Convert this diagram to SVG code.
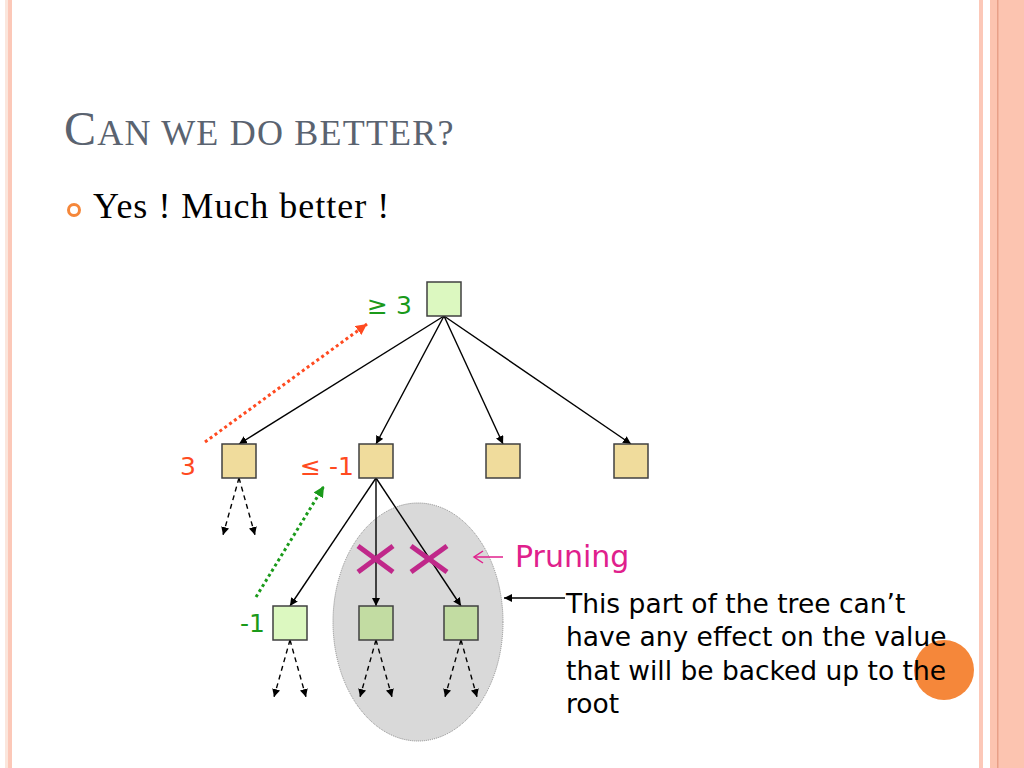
<svg xmlns="http://www.w3.org/2000/svg" width="1024" height="768" viewBox="0 0 1024 768">
<style>
.box{stroke:#404040;stroke-width:1.5}
.tan{fill:#f0dc9c}
.lg{fill:#dcf8c0}
.dg{fill:#c2dca2}
.edge{stroke:#000;stroke-width:1.4;fill:none;marker-end:url(#ah)}
.dash{stroke:#000;stroke-width:1.4;fill:none;stroke-dasharray:5,4;marker-end:url(#ah)}
.lbl{font-family:"DejaVu Sans","Liberation Sans",sans-serif;font-size:25px}
.note{font-family:"DejaVu Sans","Liberation Sans",sans-serif;font-size:26.5px;fill:#000}
</style>
<defs>
<marker id="ah" viewBox="0 0 10 10" refX="10" refY="5" markerWidth="8" markerHeight="8" markerUnits="userSpaceOnUse" orient="auto">
<path d="M0,0 L10,5 L0,10 z" fill="#000"/>
</marker>
<marker id="ahr" viewBox="0 0 10 10" refX="10" refY="5" markerWidth="11" markerHeight="11" markerUnits="userSpaceOnUse" orient="auto">
<path d="M0,0 L10,5 L0,10 z" fill="#ff4a20"/>
</marker>
<marker id="ahg" viewBox="0 0 10 10" refX="10" refY="5" markerWidth="11" markerHeight="11" markerUnits="userSpaceOnUse" orient="auto">
<path d="M0,0 L10,5 L0,10 z" fill="#1a9a1a"/>
</marker>
</defs>
<rect width="1024" height="768" fill="#fff"/>
<!-- borders -->
<rect x="5" y="0" width="3" height="768" fill="#fbe6dc"/>
<rect x="8" y="0" width="4" height="768" fill="#fcc8b8"/>
<rect x="979" y="0" width="4" height="768" fill="#fcc8b8"/>
<rect x="990" y="0" width="34" height="768" fill="#fcc4b0"/>
<rect x="997" y="0" width="1.5" height="768" fill="#e8a088"/>
<!-- title -->
<text x="64" y="145" font-family="Liberation Serif,serif" fill="#5a6370" letter-spacing="1.2"><tspan font-size="48">C</tspan><tspan font-size="36">AN WE DO BETTER?</tspan></text>
<circle cx="74" cy="210" r="5.5" fill="none" stroke="#f5873a" stroke-width="3"/>
<text x="93" y="218" font-family="Liberation Serif,serif" font-size="36" letter-spacing="1" fill="#000">Yes ! Much better !</text>
<!-- ellipse -->
<ellipse cx="418" cy="622" rx="85" ry="119" fill="#d9d9d9" stroke="#888" stroke-width="1" stroke-dasharray="1,1"/>
<!-- connectors -->
<g id="connectors">
<line class="edge" x1="444" y1="316" x2="239" y2="444"/>
<line class="edge" x1="444" y1="316" x2="376" y2="444"/>
<line class="edge" x1="444" y1="316" x2="503" y2="444"/>
<line class="edge" x1="444" y1="316" x2="631" y2="444"/>
<line class="edge" x1="376" y1="478" x2="290" y2="606"/>
<line class="edge" x1="376" y1="478" x2="376" y2="606"/>
<line class="edge" x1="376" y1="478" x2="461" y2="606"/>
<line class="dash" x1="239" y1="478" x2="223" y2="535"/>
<line class="dash" x1="239" y1="478" x2="255" y2="535"/>
<line class="dash" x1="290" y1="640" x2="274" y2="697"/>
<line class="dash" x1="290" y1="640" x2="306" y2="697"/>
<line class="dash" x1="376" y1="640" x2="360" y2="697"/>
<line class="dash" x1="376" y1="640" x2="392" y2="697"/>
<line class="dash" x1="461" y1="640" x2="445" y2="697"/>
<line class="dash" x1="461" y1="640" x2="477" y2="697"/>
<line x1="205" y1="442" x2="367" y2="324" stroke="#ff4a20" stroke-width="3" stroke-dasharray="3,3" marker-end="url(#ahr)"/>
<line x1="256" y1="597" x2="324" y2="486" stroke="#1a9a1a" stroke-width="3" stroke-dasharray="3,3" marker-end="url(#ahg)"/>
<line x1="565" y1="598" x2="504" y2="598" stroke="#000" stroke-width="1.4" marker-end="url(#ah)"/>
</g>
<!-- nodes -->
<g id="root"><rect class="box lg" x="427" y="282" width="34" height="34"/></g>
<g id="n1"><rect class="box tan" x="222" y="444" width="34" height="34"/></g>
<g id="n2"><rect class="box tan" x="359" y="444" width="34" height="34"/></g>
<g id="n3"><rect class="box tan" x="486" y="444" width="34" height="34"/></g>
<g id="n4"><rect class="box tan" x="614" y="444" width="34" height="34"/></g>
<g id="n21"><rect class="box lg" x="273" y="606" width="34" height="34"/></g>
<g id="n22"><rect class="box dg" x="359" y="606" width="34" height="34"/></g>
<g id="n23"><rect class="box dg" x="444" y="606" width="34" height="34"/></g>
<!-- labels -->
<text class="lbl" x="367" y="314" fill="#1a9a1a">≥ 3</text>
<text class="lbl" x="180" y="475" fill="#ff4a20">3</text>
<text class="lbl" x="300" y="475" fill="#ff4a20">≤ -1</text>
<text class="lbl" x="240" y="632" fill="#1a9a1a">-1</text>
<!-- crosses -->
<g stroke="#c0288a" stroke-width="5" stroke-linecap="butt">
<line x1="358" y1="546" x2="393" y2="572"/><line x1="358" y1="572" x2="393" y2="546"/>
<line x1="411" y1="546" x2="447" y2="572"/><line x1="411" y1="572" x2="447" y2="546"/>
</g>
<!-- pruning -->
<line x1="503" y1="557" x2="475" y2="557" stroke="#e0208c" stroke-width="1.5"/>
<path d="M483,551 L474,557 L483,563" fill="none" stroke="#e0208c" stroke-width="1.5"/>
<text x="515" y="567" font-family="DejaVu Sans,sans-serif" font-size="30" fill="#e0208c">Pruning</text>
<!-- note -->
<circle cx="944" cy="670" r="30" fill="#f5873a"/>
<text class="note"><tspan x="566" y="613">This part of the tree can’t</tspan><tspan x="566" y="646">have any effect on the value</tspan><tspan x="566" y="680">that will be backed up to the</tspan><tspan x="566" y="713">root</tspan></text>
</svg>
